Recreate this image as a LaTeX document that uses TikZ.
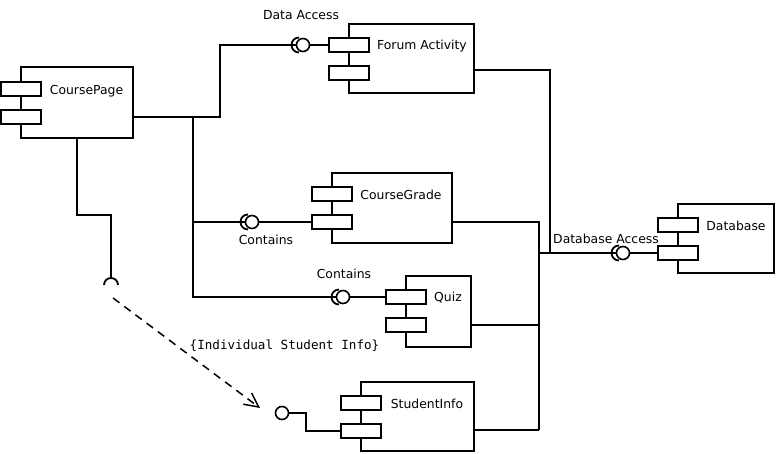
\documentclass[tikz,border=0pt]{standalone}
\usepackage{fontspec}
\setmainfont{DejaVu Sans}
\setmonofont{DejaVu Sans Mono}
\usetikzlibrary{arrows}
\usetikzlibrary{arrows.meta}

\begin{document}
\begin{tikzpicture}[x=1pt,y=-1pt]
 \useasboundingbox (0,0) rectangle (777,454);
     \tikzstyle{component}=[draw,rectangle,line width=1.8pt,inner sep=0pt,fill=white]
     \tikzstyle{tab}=[draw,rectangle,line width=1.8pt,inner sep=0pt,fill=white,minimum width=40pt,minimum height=14pt]
     \tikzstyle{ball}=[draw,circle,line width=1.6pt,inner sep=0pt,minimum size=13pt,fill=white]
     \tikzstyle{edge}=[draw,line width=1.8pt,black]
     \tikzstyle{txt}=[inner sep=0pt,font=\fontsize{12.4}{14}\selectfont]

     % components
     \node[component,minimum width=112pt,minimum height=71pt] (coursepage) at (77,102.5) {};
     \node[tab] (coursepage1) at (21,89) {};
     \node[tab] (coursepage2) at (21,117) {};
     \node[component,minimum width=125pt,minimum height=69pt] (forum) at (411.5,58.5) {};
     \node[tab] (forum1) at (349,45) {};
     \node[tab] (forum2) at (349,73) {};
     \node[component,minimum width=120pt,minimum height=70pt] (grade) at (392,208) {};
     \node[tab] (grade1) at (332,194) {};
     \node[tab] (grade2) at (332,222) {};
     \node[component,minimum width=65pt,minimum height=71pt] (quiz) at (438.5,311.5) {};
     \node[tab] (quiz1) at (406,297) {};
     \node[tab] (quiz2) at (406,325) {};
     \node[component,minimum width=113pt,minimum height=69pt] (student) at (417.5,416.5) {};
     \node[tab] (student1) at (361,403) {};
     \node[tab] (student2) at (361,431) {};
     \node[component,minimum width=96pt,minimum height=69pt] (database) at (726,238.5) {};
     \node[tab] (database1) at (678,225) {};
     \node[tab] (database2) at (678,253) {};

     \node[txt] (coursepagetxt) at (86.5,91) {CoursePage};
     \node[txt] (forumtxt) at (422,46) {Forum Activity};
     \node[txt] (gradetxt) at (401,195) {CourseGrade};
     \node[txt] (quiztxt) at (448,298) {Quiz};
     \node[txt] (studenttxt) at (427,404) {StudentInfo};
     \node[txt] (databasetxt) at (736,226) {Database};

     % provided interfaces
     \node[ball] (bforum) at (303,45) {};
     \node[ball] (bgrade) at (252,222) {};
     \node[ball] (bquiz) at (343,297) {};
     \node[ball] (bdatabase) at (623,253) {};
     \node[ball] (bstudent) at (282,413) {};

     \node[txt] (dataaccess) at (301,15) {Data Access};
     \node[txt] (contains1) at (266,240) {Contains};
     \node[txt] (contains2) at (344,274) {Contains};
     \node[txt] (dbaccess) at (606,239) {Database Access};
     \node[txt,font=\fontsize{12.6}{14}\ttfamily] (studentinfo) at (284.5,346) {\{Individual Student Info\}};

     \coordinate (fork) at (193,117);
     \coordinate (bend) at (220,117);
     \coordinate (forumout) at (474,70);
     \coordinate (dbjoin) at (550,253);
     \coordinate (bustop) at (539,222);
     \coordinate (busbot) at (539,430);
     \coordinate (cpsock) at (111,278);
     \coordinate (dashfrom) at (113,298);
     \coordinate (dashto) at (260,408);

     % required interfaces
     \draw[edge] (bforum.center) ++(-4,-7.5) arc[start angle=90,end angle=270,radius=7.5pt];
     \draw[edge] (bgrade.center) ++(-4,-7.5) arc[start angle=90,end angle=270,radius=7.5pt];
     \draw[edge] (bquiz.center) ++(-4,-7.5) arc[start angle=90,end angle=270,radius=7.5pt];
     \draw[edge] (bdatabase.center) ++(-4,-7.5) arc[start angle=90,end angle=270,radius=7.5pt];
     \draw[edge] (cpsock) ++(-7,7) arc[start angle=180,end angle=0,radius=7pt];

     \draw[edge] (coursepage2 -| coursepage.east) -- (bend) |- (bforum);
     \draw[edge] (fork) |- (bquiz);
     \draw[edge] (fork |- bgrade) -- (bgrade);
     \draw[edge] (bforum) -- (forum1);
     \draw[edge] (bgrade) -- (grade2);
     \draw[edge] (bquiz) -- (quiz1);
     \draw[edge] (coursepage.south) -- ++(0,76) -| (cpsock);

     \draw[edge] (forumout) -| (dbjoin);
     \draw[edge] (grade2 -| grade.east) -- (bustop) -- (busbot);
     \draw[edge] (quiz2 -| quiz.east) -- (quiz2 -| bustop);
     \draw[edge] (busbot -| student.east) -- (busbot);
     \draw[edge] (bustop |- database2) -- (bdatabase);
     \draw[edge] (bdatabase) -- (database2);
     \draw[edge] (bstudent) -- ++(24,0) |- (student2);

     \draw[edge,line width=1.5pt,dash pattern=on 8pt off 6pt,-{Straight Barb[length=14pt,width=14pt]}] (dashfrom) -- (dashto);
 \end{tikzpicture}
\end{document}
